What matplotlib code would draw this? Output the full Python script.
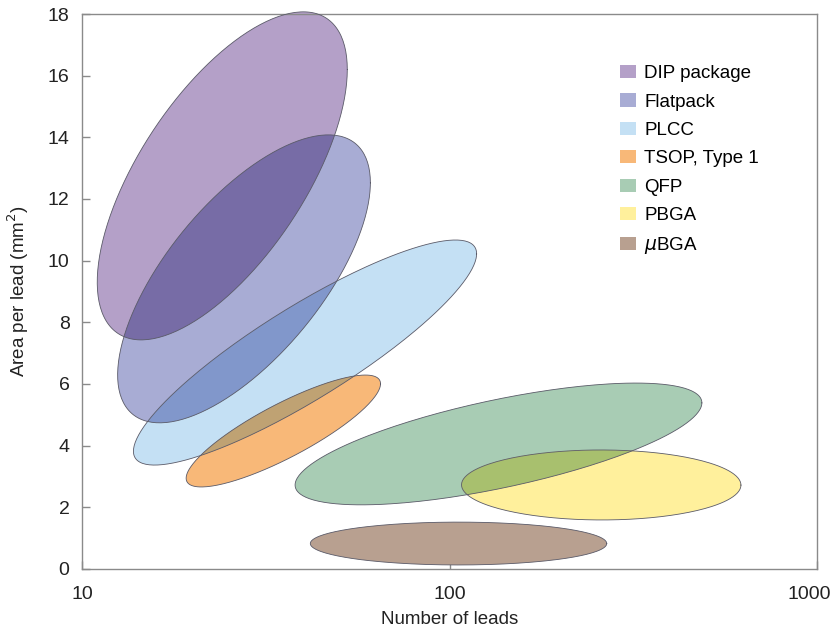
import numpy as np
import matplotlib
matplotlib.use("Agg")
import matplotlib.pyplot as plt
from matplotlib.patches import Patch
from matplotlib.colors import to_rgb
from matplotlib.transforms import ScaledTranslation

plt.rcParams['font.family'] = ['Liberation Sans', 'DejaVu Sans']

# package families: ranges
packages = ['DIP package', 'Flatpack', 'PLCC', 'TSOP, Type 1', 'QFP', 'PBGA', r'$\mu$BGA']
lead_min = [11.0, 12.5, 13.8, 19.2, 38.0, 107.8, 41.8]
lead_max = [52.7, 60.9, 118.5, 64.9, 486.0, 620.8, 267.8]
area_min = [7.43, 4.74, 3.37, 2.66, 2.08, 1.59, 0.13]
area_max = [18.07, 14.08, 10.67, 6.29, 6.03, 3.86, 1.52]
lead_at_top = [40.0, 46.8, 103.8, 59.0, 321.0, 257.8, 105.8]
colors = ['#b4a0c8', '#a8acd4', '#c4e0f4', '#f8b878', '#a8ccb4', '#fff09c', '#b8a090']

xticks = [10, 100, 1000]
yticks = [0, 2, 4, 6, 8, 10, 12, 14, 16, 18]


def ellipse_xy(i, n=240):
    u0, u1 = np.log10(lead_min[i]), np.log10(lead_max[i])
    uc, hu = (u0 + u1) / 2, (u1 - u0) / 2
    yc, hy = (area_min[i] + area_max[i]) / 2, (area_max[i] - area_min[i]) / 2
    phi = np.arcsin(np.clip((np.log10(lead_at_top[i]) - uc) / hu, -1, 1))
    t = np.linspace(0, 2 * np.pi, n)
    return 10 ** (uc + hu * np.cos(t)), yc + hy * np.sin(t + phi)


def multiply(c1, c2):
    a, b = np.array(to_rgb(c1)), np.array(to_rgb(c2))
    return tuple(a * b)


fig = plt.figure(figsize=(8.31, 6.31), dpi=100)
ax = fig.add_axes([0.0987, 0.0983, 0.8845, 0.8795])
ax.set_xscale('log')
ax.set_xlim(10, 1000)
ax.set_ylim(0, 18)

shapes = []
for i in range(len(packages)):
    xs, ys = ellipse_xy(i)
    poly, = ax.fill(xs, ys, color=colors[i], lw=0, zorder=2, clip_on=False)
    shapes.append((xs, ys, poly))

# overlaps look multiplied in the original
for j in range(len(packages)):
    for i in range(j):
        xs, ys, _ = shapes[j]
        p, = ax.fill(xs, ys, color=multiply(colors[i], colors[j]), lw=0, zorder=3)
        p.set_clip_path(shapes[i][2])

for xs, ys, _ in shapes:
    ax.plot(xs, ys, color='#5a5a68', lw=0.6, zorder=4, clip_on=False)

for s in ax.spines.values():
    s.set_color('#8a8a8a')
    s.set_linewidth(1.0)

ax.set_xticks(xticks)
ax.set_xticklabels([str(v) for v in xticks])
ax.xaxis.set_minor_locator(matplotlib.ticker.NullLocator())
ax.set_yticks(yticks)
ax.tick_params(axis='both', direction='in', length=6, width=1, color='#8a8a8a',
               labelsize=14, labelcolor='#222222')
ax.tick_params(axis='y', pad=9)
ax.tick_params(axis='x', pad=12)

# last x label sits at the right edge of the picture
last = ax.get_xticklabels()[-1]
last.set_horizontalalignment('right')
last.set_transform(last.get_transform() + ScaledTranslation(0.14, 0, fig.dpi_scale_trans))

ax.set_xlabel('Number of leads', fontsize=13.5, color='#222222', labelpad=6)
ax.set_ylabel('Area per lead (mm$^2$)', fontsize=13.5, color='#222222', labelpad=12)

handles = [Patch(facecolor=c, edgecolor='none') for c in colors]
ax.legend(handles, packages, loc='upper left', bbox_to_anchor=(0.732, 0.908),
          frameon=False, fontsize=13.5, handlelength=0.85, handleheight=0.7,
          handletextpad=0.45, labelspacing=0.6, borderpad=0, borderaxespad=0)

fig.savefig('out.png', dpi=100)
